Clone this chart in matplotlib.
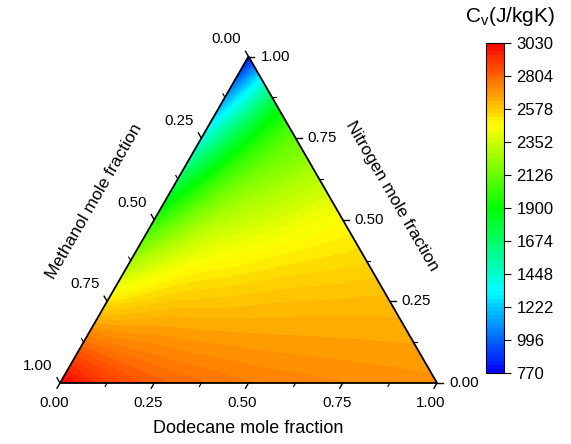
import numpy as np
import matplotlib
matplotlib.use('Agg')
import matplotlib.pyplot as plt
import matplotlib.tri as mtri
from matplotlib.colors import LinearSegmentedColormap

plt.rcParams['font.family'] = ['Liberation Sans', 'DejaVu Sans']

# Cv (J/kgK) read on a 0.125 composition grid
# one list per nitrogen fraction, dodecane fraction going 0, 0.125, ... (left edge -> right edge)
nitrogen_levels = [0.0, 0.125, 0.25, 0.375, 0.5, 0.625, 0.75, 0.875, 1.0]
cv_n000 = [3030, 2890, 2820, 2780, 2750, 2735, 2720, 2710, 2700]
cv_n125 = [2780, 2725, 2700, 2685, 2675, 2670, 2665, 2660]
cv_n250 = [2520, 2565, 2585, 2595, 2605, 2610, 2615]
cv_n375 = [2255, 2400, 2465, 2500, 2525, 2545]
cv_n500 = [1980, 2225, 2340, 2405, 2460]
cv_n625 = [1695, 2050, 2215, 2310]
cv_n750 = [1400, 1870, 2110]
cv_n875 = [1095, 1700]
cv_n1000 = [780]
cv_rows = [cv_n000, cv_n125, cv_n250, cv_n375, cv_n500,
           cv_n625, cv_n750, cv_n875, cv_n1000]

tick_values = [0.0, 0.25, 0.5, 0.75, 1.0]
tick_labels = ['0.00', '0.25', '0.50', '0.75', '1.00']
minor_values = [0.125, 0.375, 0.625, 0.875]
cbar_ticks = [770, 996, 1222, 1448, 1674, 1900, 2126, 2352, 2578, 2804, 3030]

H = np.sqrt(3) / 2


def to_xy(d, n):
    # dodecane -> bottom right, nitrogen -> top, methanol -> bottom left
    return d + n / 2.0, n * H


# build point list from the rows
xs, ys, zs = [], [], []
step = 0.125
for n, row in zip(nitrogen_levels, cv_rows):
    for k, v in enumerate(row):
        x, y = to_xy(k * step, n)
        xs.append(x)
        ys.append(y)
        zs.append(v)
xs = np.array(xs)
ys = np.array(ys)
zs = np.array(zs, dtype=float)

tri = mtri.Triangulation(xs, ys)
refiner = mtri.UniformTriRefiner(tri)
tri_f, z_f = refiner.refine_field(zs, subdiv=4)
z_f = np.clip(z_f, 770, 3030)

cmap = LinearSegmentedColormap.from_list(
    'rainbow_origin',
    [(0.0, '#0000ff'), (0.25, '#00ffff'), (0.5, '#00ff00'),
     (0.75, '#ffff00'), (1.0, '#ff0000')])
levels = np.linspace(770, 3030, 81)

W, Hpx = 571, 444
fig = plt.figure(figsize=(W / 100, Hpx / 100), dpi=100)
ax = fig.add_axes([60 / W, 1 - 383 / Hpx, 377 / W, 326.5 / Hpx])
ax.set_xlim(0, 1)
ax.set_ylim(0, H)
ax.axis('off')

cs = ax.tricontourf(tri_f, z_f, levels=levels, cmap=cmap, vmin=770, vmax=3030)

# triangle frame
ax.plot([0, 1, 0.5, 0], [0, 0, H, 0], color='black', lw=1.3, clip_on=False,
        solid_joinstyle='miter')

px = 1 / 377.0
dir_bottom = np.array([-0.5, -H])
dir_left = np.array([-0.5, H])
dir_right = np.array([1.0, 0.0])
fs_tick = 10.8

for val, lab in zip(tick_values, tick_labels):
    # dodecane (bottom edge)
    p = np.array(to_xy(val, 0))
    q = p + dir_bottom * 6 * px
    ax.plot([p[0], q[0]], [p[1], q[1]], color='black', lw=1, clip_on=False)
    ax.text(p[0] - 6 * px, p[1] - 20 * px, lab, ha='center', va='center',
            fontsize=fs_tick)
    # methanol (left edge), methanol = val -> nitrogen = 1 - val, dodecane = 0
    p = np.array(to_xy(0, 1 - val))
    q = p + dir_left * 6 * px
    ax.plot([p[0], q[0]], [p[1], q[1]], color='black', lw=1, clip_on=False)
    ax.text(p[0] - 22 * px, p[1] + 17 * px, lab, ha='center', va='center',
            fontsize=fs_tick)
    # nitrogen (right edge)
    p = np.array(to_xy(1 - val, val))
    q = p + dir_right * 6 * px
    ax.plot([p[0], q[0]], [p[1], q[1]], color='black', lw=1, clip_on=False)
    ax.text(p[0] + 12 * px, p[1], lab, ha='left', va='center',
            fontsize=fs_tick)

for val in minor_values:
    for p, dvec in [(to_xy(val, 0), dir_bottom),
                    (to_xy(0, 1 - val), dir_left),
                    (to_xy(1 - val, val), dir_right)]:
        p = np.array(p)
        q = p + dvec * 4 * px
        ax.plot([p[0], q[0]], [p[1], q[1]], color='black', lw=0.8, clip_on=False)

ax.text(0.5, -45 * px, 'Dodecane mole fraction', ha='center', va='center',
        fontsize=13)
ax.text(0.25 - 60 * px, H / 2 + 18 * px, 'Methanol mole fraction', ha='center',
        va='center', rotation=60, rotation_mode='anchor', fontsize=12.5)
ax.text(0.75 + 49 * px, H / 2 + 24 * px, 'Nitrogen mole fraction', ha='center',
        va='center', rotation=-60, rotation_mode='anchor', fontsize=12.5)

# colorbar
cax = fig.add_axes([486 / W, 1 - 373 / Hpx, 18 / W, 330 / Hpx])
cb = fig.colorbar(cs, cax=cax, ticks=cbar_ticks)
cb.outline.set_linewidth(0.8)
cb.ax.tick_params(direction='out', length=5, width=0.8, labelsize=12, pad=4)
cb.ax.minorticks_off()
fig.text(510 / W, 1 - 16 / Hpx, r'C$_\mathregular{v}$(J/kgK)', ha='center',
         va='center', fontsize=15)

fig.savefig('out.png', dpi=100)
